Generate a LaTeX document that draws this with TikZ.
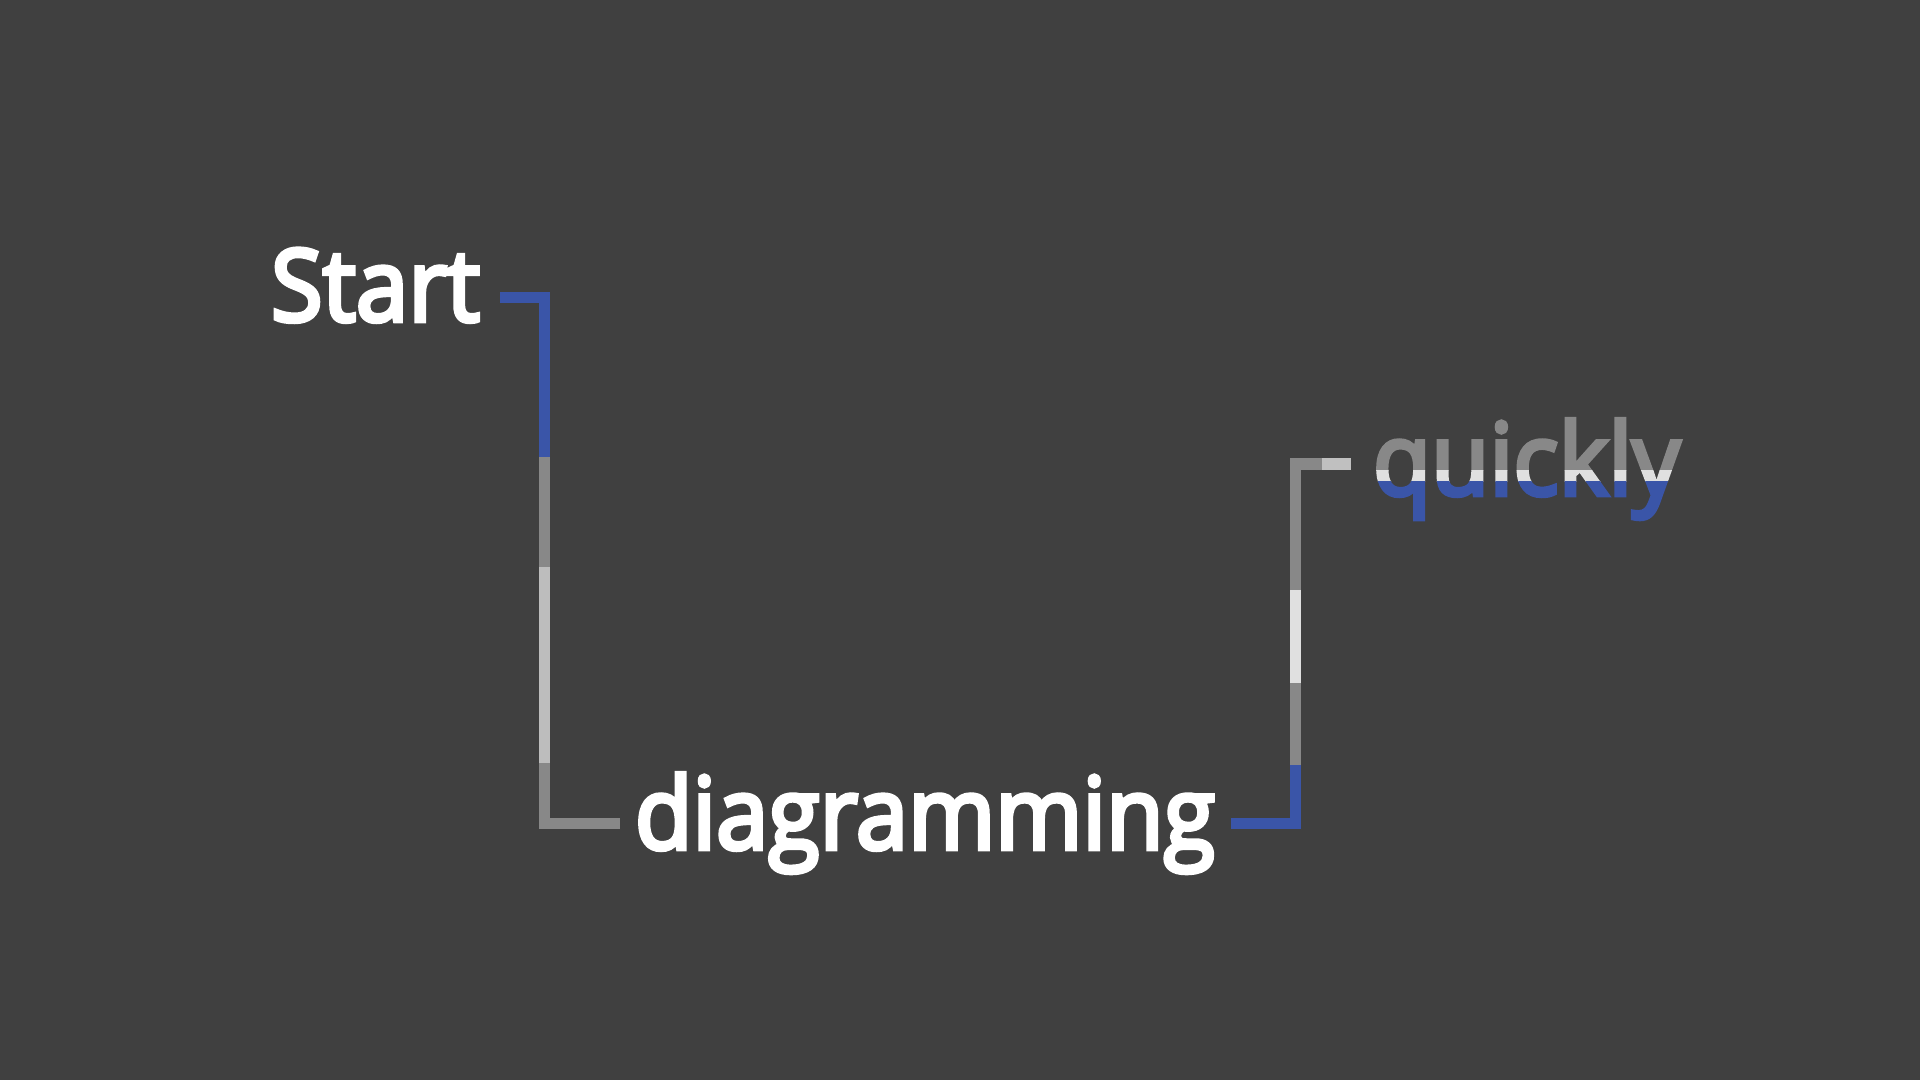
\documentclass[tikz,border=0pt]{standalone}
\usepackage{graphicx}
\usepackage{fontspec}
\newfontfamily\labelfont{Open Sans}[BoldFont={Open Sans},BoldFeatures={FakeBold=4.5}]
\definecolor{bg}{HTML}{404040}
\definecolor{lblue}{HTML}{3A55A8}
\definecolor{lgray}{HTML}{888888}
\definecolor{llight}{HTML}{BDBDBD}
\definecolor{lwhite}{HTML}{E0E0E0}
\definecolor{ltop}{HTML}{C0C0C0}
\newlength\wlen
\newcommand\fitword[2]{\settowidth\wlen{#2}\pgfmathsetmacro\wratio{#1/\wlen}\scalebox{\wratio}[1]{#2}}
\tikzset{
  seg/.style={line width=11.5pt, line cap=butt, line join=miter},
  word/.style={anchor=base west, inner sep=0pt, outer sep=0pt, font=\labelfont\bfseries\fontsize{100}{100}\selectfont}
}
\begin{document}
\begin{tikzpicture}[x=1pt,y=-1pt]
\fill[bg] (0,0) rectangle (1920,1080);
\useasboundingbox (0,0) rectangle (1920,1080);
% words
\node[word, text=white] (start) at (271,321) {\fitword{209}{Start}};
\node[word, text=white] (diag) at (635,849) {\fitword{580}{diagramming}};
\begin{scope}
  \clip (1300,380) rectangle (1720,470.7);
  \node[word, text=lgray] (quickly) at (1373,495) {\fitword{307}{quickly}};
\end{scope}
\begin{scope}
  \clip (1300,470.7) rectangle (1720,481.7);
  \node[word, text=lwhite] (quicklyB) at (1373,495) {\fitword{307}{quickly}};
\end{scope}
\begin{scope}
  \clip (1300,481.7) rectangle (1720,540);
  \node[word, text=lblue] (quicklyC) at (1373,495) {\fitword{307}{quickly}};
\end{scope}
% connector Start -> diagramming
\coordinate (a0) at (500,297.5);
\coordinate (a1) at (544.5,297.5);
\coordinate (a2) at (544.5,457);
\coordinate (a3) at (544.5,567);
\coordinate (a4) at (544.5,763);
\coordinate (a5) at (544.5,823.5);
\coordinate (a6) at (620,823.5);
\draw[seg, lblue] (a0) -- (a1) -- (a2);
\draw[seg, lgray] (a2) -- (a3);
\draw[seg, llight] (a3) -- (a4);
\draw[seg, lgray] (a4) -- (a5) -- (a6);
% connector diagramming -> quickly
\coordinate (b0) at (1231,823.5);
\coordinate (b1) at (1295.5,823.5);
\coordinate (b2) at (1295.5,765);
\coordinate (b3) at (1295.5,683);
\coordinate (b4) at (1295.5,590);
\coordinate (b5) at (1295.5,463.8);
\coordinate (b6) at (1321.5,463.8);
\coordinate (b7) at (1351,463.8);
\draw[seg, lblue] (b0) -- (b1) -- (b2);
\draw[seg, lgray] (b2) -- (b3);
\draw[seg, lwhite] (b3) -- (b4);
\draw[seg, lgray] (b4) -- (b5) -- (b6);
\draw[seg, ltop] (b6) -- (b7);
\end{tikzpicture}
\end{document}
